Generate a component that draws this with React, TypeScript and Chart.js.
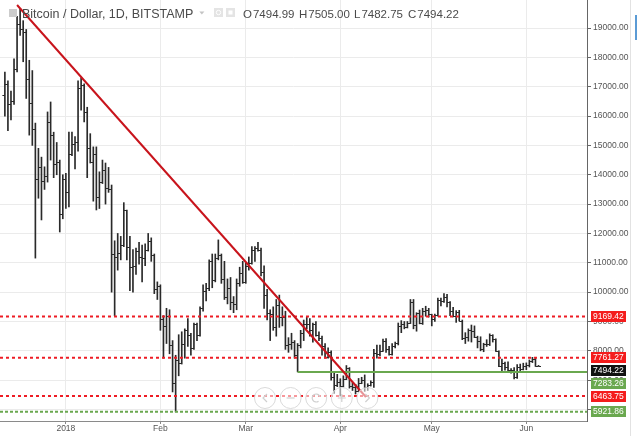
import React, { useEffect, useRef } from "react";
import { Chart, registerables } from "chart.js";

Chart.register(...registerables);

// Day index of the first bar: 0 = 1 Jan 2018, so -20 = 12 Dec 2017 (daily bars, BITSTAMP)
const FIRST_DAY = -20;

const opens = [
  16730, 17080, 16400, 16500, 17600, 19150, 18950, 18850, 17250, 16450, 15550, 13850, 14250, 13800, 13950, 15800, 15350, 14350, 14450, 12650,
  13850, 13400, 14700, 15050, 15100, 16950, 17050, 16150, 14900, 14450, 14700, 13250, 13750, 14150, 13550, 13500, 11300, 11200, 11350, 11600, 12800, 11550, 10850, 10880, 11400, 11200, 11150, 11450, 11750, 11250, 10100,
  10200, 9100, 8850, 9200, 8200, 6900, 7700, 7600, 8250, 8700, 8550, 8100, 8900, 8550, 9450, 10050, 10150, 11050, 10400, 11150, 11250, 10450, 9850, 10150, 9650, 9600, 10300, 10650,
  10350, 10900, 11000, 11450, 11500, 11450, 10700, 9900, 9300, 9250, 8800, 9550, 9150, 9150, 8200, 8250, 8300, 7850, 8200, 8600, 8900, 8900, 8700, 8900, 8550, 8450, 8150, 7800, 7950, 7100, 6850,
  6950, 6800, 7050, 7420, 6800, 6780, 6620, 6900, 7020, 6770, 6830, 6940, 7920, 7880, 8000, 8350, 8050, 7880, 8170, 8280, 8850, 8920, 8800, 8940, 9650, 8870, 9280, 8950, 9350, 9400,
  9240, 9070, 9220, 9730, 9700, 9850, 9650, 9370, 9190, 9320, 9030, 8430, 8470, 8700, 8680, 8480, 8340, 8060, 8240, 8240, 8530, 8390, 7990, 7500, 7580, 7460, 7340, 7350, 7110, 7460, 7390,
  7490, 7520, 7640, 7710, 7494.99,
];

const highs = [
  17500, 17200, 16850, 17950, 19400, 19666, 19250, 18950, 17900, 17550, 15760, 14900, 14600, 14270, 16140, 16480, 15450, 15100, 14500, 14000,
  14050, 15450, 15450, 15300, 17200, 17300, 17100, 16300, 15400, 14950, 14950, 14100, 14500, 14400, 14250, 13650, 11750, 12000, 11900, 13050, 12800, 11900, 11450, 11500, 11700, 11600, 11650, 12000, 11850, 11300, 10350,
  10250, 9200, 9450, 9400, 8350, 7850, 8550, 8650, 8750, 9100, 8600, 8950, 8950, 9500, 10250, 10300, 11100, 11300, 11300, 11780, 11300, 11050, 10450, 10500, 9850, 10450, 10850, 11050,
  11000, 11200, 11550, 11550, 11700, 11500, 10900, 10100, 9400, 9500, 9750, 9900, 9500, 9350, 8450, 8600, 8350, 8250, 8700, 9050, 9150, 9100, 8950, 9000, 8650, 8500, 8250, 8100, 8000, 7250, 7200,
  7050, 7150, 7500, 7430, 6920, 6860, 7060, 7100, 7180, 6880, 6980, 8050, 8200, 8200, 8400, 8420, 8150, 8250, 8300, 8950, 9030, 9000, 9000, 9750, 9750, 9300, 9390, 9450, 9520, 9450,
  9250, 9250, 9800, 9800, 9950, 9930, 9680, 9480, 9370, 9380, 9050, 8620, 8750, 8880, 8850, 8500, 8480, 8260, 8380, 8580, 8550, 8410, 8000, 7720, 7620, 7630, 7400, 7430, 7530, 7550, 7580,
  7590, 7690, 7780, 7760, 7505,
];

const lows = [
  16000, 15500, 15870, 16400, 17500, 18750, 17850, 16600, 15350, 15000, 11160, 13200, 12460, 13500, 13750, 14500, 13900, 14000, 12050, 12500,
  12850, 12900, 14650, 14200, 14800, 16200, 15800, 13900, 14400, 13100, 12800, 12850, 13700, 13000, 13400, 10000, 9200, 10750, 11100, 11550, 11100, 10050, 10000, 10600, 10950, 10350, 10900, 11400, 11050, 9950, 9750,
  8700, 7750, 8250, 7900, 6600, 5921.86, 7150, 7550, 7750, 8150, 7850, 8050, 8350, 8500, 9350, 9700, 10050, 10150, 10350, 11100, 10300, 9750, 9600, 9400, 9300, 9400, 10200, 10300,
  10300, 10750, 10950, 11050, 11400, 10550, 9450, 9050, 8350, 8700, 8500, 8800, 8850, 8050, 7950, 8050, 7750, 7283.26, 8100, 8350, 8750, 8500, 8300, 8500, 8350, 7850, 7750, 7750, 7000, 6550, 6780,
  6460, 6770, 7020, 6730, 6650, 6530, 6600, 6880, 6620, 6650, 6800, 6750, 7750, 7830, 7980, 7950, 7850, 7850, 8100, 8200, 8620, 8750, 8780, 8930, 8750, 8670, 8920, 8900, 9180, 9150,
  8850, 9000, 9180, 9530, 9650, 9500, 9200, 9160, 8970, 9020, 8380, 8250, 8330, 8300, 8450, 8100, 8000, 7970, 8150, 8180, 8300, 7980, 7460, 7280, 7340, 7320, 7240, 7040, 7060, 7300, 7350,
  7360, 7450, 7600, 7470, 7482.75,
];

const closes = [
  17080, 16400, 16500, 17600, 19150, 18950, 18850, 17250, 16450, 15550, 13850, 14250, 13800, 13950, 15800, 15350, 14350, 14450, 12650, 13850,
  13400, 14700, 15050, 15100, 16950, 17050, 16150, 14900, 14450, 14700, 13250, 13750, 14150, 13550, 13500, 11300, 11200, 11350, 11600, 12800, 11550, 10850, 10880, 11400, 11200, 11150, 11450, 11750, 11250, 10100, 10200,
  9100, 8850, 9200, 8200, 6900, 7700, 7600, 8250, 8700, 8550, 8100, 8900, 8550, 9450, 10050, 10150, 11050, 10400, 11150, 11250, 10450, 9850, 10150, 9650, 9600, 10300, 10650, 10350,
  10900, 11000, 11450, 11500, 11450, 10700, 9900, 9300, 9250, 8800, 9550, 9150, 9150, 8200, 8250, 8300, 7850, 8200, 8600, 8900, 8900, 8700, 8900, 8550, 8450, 8150, 7800, 7950, 7100, 6850, 6950,
  6800, 7050, 7420, 6800, 6780, 6620, 6900, 7020, 6770, 6830, 6940, 7920, 7880, 8000, 8350, 8050, 7880, 8170, 8280, 8850, 8920, 8800, 8940, 9650, 8870, 9280, 8950, 9350, 9400, 9240,
  9070, 9220, 9730, 9700, 9850, 9650, 9370, 9190, 9320, 9030, 8430, 8470, 8700, 8680, 8480, 8340, 8060, 8240, 8240, 8530, 8390, 7990, 7500, 7580, 7460, 7340, 7350, 7110, 7460, 7390, 7490,
  7520, 7640, 7710, 7494.99, 7494.22,
];

// x axis: month starts (day index) and their labels
const monthTickDays = [0, 31, 59, 90, 120, 151];
const monthTickLabels = ["2018", "Feb", "Mar", "Apr", "May", "Jun"];
// y axis ticks
const priceTicks = [6000, 7000, 8000, 9000, 10000, 11000, 12000, 13000, 14000, 15000, 16000, 17000, 18000, 19000];

// drawn levels
const redLevels = [9169.42, 7761.27, 6463.75];
const greenDashedLevel = 5921.86;
const greenLevel = 7283.26;
const greenLevelStartDay = 76;
const trendDays = [-16, 98.4];
const trendPrices = [19784, 6428];
const lastPrice = 7494.22;

// right-axis price tags
const tagValues = [9169.42, 7761.27, lastPrice, 7283.26, 6463.75, 5921.86];
const tagColors = ["#f41c1c", "#f41c1c", "#111111", "#6aa84f", "#f41c1c", "#6aa84f"];

const legendTitle = "Bitcoin / Dollar, 1D, BITSTAMP";
const legendLetters = ["O", "H", "L", "C"];
const legendNumbers = ["7494.99", "7505.00", "7482.75", "7494.22"];

const X_MIN = -21.6;
const X_MAX = 170.9;
const Y_MIN = 5610;
const Y_MAX = 19954;

const FONT = "'Liberation Sans', Arial, sans-serif";
const BAR_COLOR = "#2a2a2a";
const RED = "#ee1c24";
const GREEN = "#6aa84f";

const ohlcTicksPlugin = {
  id: "ohlcTicks",
  afterDatasetDraw(chart: any, args: any) {
    if (args.index !== 0) return;
    const ctx = chart.ctx;
    const y = chart.scales.y;
    const meta = chart.getDatasetMeta(0);
    ctx.save();
    ctx.strokeStyle = BAR_COLOR;
    ctx.lineWidth = 1;
    ctx.beginPath();
    meta.data.forEach((el: any, i: number) => {
      const x = el.x;
      const yo = Math.round(y.getPixelForValue(opens[i])) + 0.5;
      const yc = Math.round(y.getPixelForValue(closes[i])) + 0.5;
      ctx.moveTo(x - 2.5, yo);
      ctx.lineTo(x, yo);
      ctx.moveTo(x, yc);
      ctx.lineTo(x + 2.5, yc);
    });
    ctx.stroke();
    ctx.restore();
  },
};

const decorPlugin = {
  id: "decor",
  afterDraw(chart: any) {
    const ctx = chart.ctx;
    const yS = chart.scales.y;
    const area = chart.chartArea;
    ctx.save();

    // right edge strip
    ctx.strokeStyle = "#e2e2e2";
    ctx.lineWidth = 1;
    ctx.beginPath();
    ctx.moveTo(630.5, 0);
    ctx.lineTo(630.5, 436);
    ctx.stroke();
    ctx.fillStyle = "#5b9bd5";
    ctx.fillRect(635, 15, 2, 25);

    // navigation buttons
    const cy = 398;
    for (let k = 0; k < 5; k++) {
      const cx = 265 + k * 25.6;
      ctx.beginPath();
      ctx.arc(cx, cy, 10.5, 0, Math.PI * 2);
      ctx.fillStyle = "rgba(255,255,255,0.55)";
      ctx.fill();
      ctx.strokeStyle = "#dadada";
      ctx.lineWidth = 1;
      ctx.stroke();
      ctx.strokeStyle = "#cfcfcf";
      ctx.lineWidth = 1.2;
      ctx.beginPath();
      if (k === 0) {
        ctx.moveTo(cx + 2, cy - 4);
        ctx.lineTo(cx - 2, cy);
        ctx.lineTo(cx + 2, cy + 4);
      } else if (k === 1) {
        ctx.moveTo(cx - 4, cy);
        ctx.lineTo(cx + 4, cy);
      } else if (k === 2) {
        ctx.arc(cx, cy, 4, Math.PI * 0.3, Math.PI * 1.9);
      } else if (k === 3) {
        ctx.moveTo(cx - 4, cy);
        ctx.lineTo(cx + 4, cy);
        ctx.moveTo(cx, cy - 4);
        ctx.lineTo(cx, cy + 4);
      } else {
        ctx.moveTo(cx - 2, cy - 4);
        ctx.lineTo(cx + 2, cy);
        ctx.lineTo(cx - 2, cy + 4);
      }
      ctx.stroke();
    }

    // legend header
    ctx.fillStyle = "#cccccc";
    ctx.fillRect(9, 9, 8, 8);
    ctx.font = `12.5px ${FONT}`;
    ctx.textBaseline = "alphabetic";
    ctx.textAlign = "left";
    ctx.fillStyle = "#4a4a4a";
    ctx.fillText(legendTitle, 22, 18);
    const tw = ctx.measureText(legendTitle).width;
    // caret and small icons
    ctx.fillStyle = "#c4c4c4";
    ctx.beginPath();
    ctx.moveTo(22 + tw + 6, 11.5);
    ctx.lineTo(22 + tw + 11, 11.5);
    ctx.lineTo(22 + tw + 8.5, 14.5);
    ctx.closePath();
    ctx.fill();
    ctx.fillStyle = "#e4e4e4";
    ctx.fillRect(214, 8, 9, 9);
    ctx.fillRect(226, 8, 9, 9);
    ctx.strokeStyle = "#ffffff";
    ctx.lineWidth = 1;
    ctx.beginPath();
    ctx.arc(218.5, 12.5, 2.2, 0, Math.PI * 2);
    ctx.stroke();
    ctx.fillStyle = "#ffffff";
    ctx.fillRect(228.5, 10.5, 4, 4);
    ctx.font = `11.5px ${FONT}`;
    ctx.fillStyle = "#4a4a4a";
    const groupX = [243, 299, 354, 408];
    legendLetters.forEach((l, i) => {
      ctx.fillText(l, groupX[i], 18);
      const lw = ctx.measureText(l).width;
      ctx.fillText(legendNumbers[i], groupX[i] + lw + 1, 18);
    });

    // price tags on the right axis
    const tags = tagValues
      .map((v, i) => ({ v, c: tagColors[i], y: yS.getPixelForValue(v) }))
      .sort((a, b) => a.y - b.y);
    let prev = -Infinity;
    ctx.font = `8.5px ${FONT}`;
    ctx.textBaseline = "middle";
    tags.forEach((t) => {
      const yy = Math.max(t.y, prev + 13);
      prev = yy;
      ctx.fillStyle = t.c;
      ctx.fillRect(area.right + 4, Math.round(yy - 5.5), 35, 11);
      ctx.fillStyle = "#ffffff";
      ctx.fillText(t.v.toFixed(2), area.right + 6, Math.round(yy - 5.5) + 6);
    });
    ctx.restore();
  },
};

export default function App() {
  const ref = useRef<HTMLCanvasElement | null>(null);

  useEffect(() => {
    const canvas = ref.current;
    if (!canvas) return;
    Chart.defaults.font.family = FONT;

    const wickData = opens.map((_, i) => ({ x: FIRST_DAY + i, y: [lows[i], highs[i]] }));
    const flat = (v: number, from = X_MIN) => [
      { x: from, y: v },
      { x: X_MAX, y: v },
    ];

    const chart = new Chart(canvas, {
      type: "bar",
      data: {
        datasets: [
          {
            type: "bar",
            data: wickData as any,
            backgroundColor: BAR_COLOR,
            borderWidth: 0,
            barThickness: 1,
            order: 5,
          } as any,
          {
            type: "line",
            data: [
              { x: trendDays[0], y: trendPrices[0] },
              { x: trendDays[1], y: trendPrices[1] },
            ],
            borderColor: "#c8141c",
            borderWidth: 2,
            pointRadius: 0,
            order: 1,
          },
          ...redLevels.map((v) => ({
            type: "line" as const,
            data: flat(v),
            borderColor: RED,
            borderWidth: 2,
            borderDash: [3, 3],
            pointRadius: 0,
            order: 2,
          })),
          {
            type: "line",
            data: flat(greenDashedLevel),
            borderColor: GREEN,
            borderWidth: 2,
            borderDash: [3, 2],
            pointRadius: 0,
            order: 2,
          },
          {
            type: "line",
            data: flat(greenLevel, greenLevelStartDay),
            borderColor: GREEN,
            borderWidth: 2,
            pointRadius: 0,
            order: 2,
          },
        ],
      },
      options: {
        responsive: false,
        animation: false,
        devicePixelRatio: 1,
        events: [],
        layout: { padding: 0 },
        plugins: { legend: { display: false }, tooltip: { enabled: false } },
        scales: {
          x: {
            type: "linear",
            min: X_MIN,
            max: X_MAX,
            offset: false,
            grid: { color: "#ebebeb", offset: false, tickLength: 3, tickColor: "#888" },
            border: { color: "#8a8a8a", width: 1 },
            afterBuildTicks: (s: any) => {
              s.ticks = monthTickDays.map((v) => ({ value: v }));
            },
            afterFit: (s: any) => {
              s.height = 15;
              s.paddingLeft = 0;
              s.paddingRight = 0;
            },
            ticks: {
              autoSkip: false,
              maxRotation: 0,
              padding: 0,
              color: "#555",
              font: { size: 8.5, family: FONT },
              callback: (_v: any, i: number) => monthTickLabels[i],
            },
          },
          y: {
            type: "linear",
            position: "right",
            min: Y_MIN,
            max: Y_MAX,
            grid: { color: "#ebebeb", tickLength: 4, tickColor: "#666" },
            border: { color: "#666", width: 1 },
            afterBuildTicks: (s: any) => {
              s.ticks = priceTicks.map((v) => ({ value: v }));
            },
            afterFit: (s: any) => {
              s.width = 53;
              s.paddingTop = 0;
              s.paddingBottom = 0;
            },
            ticks: {
              autoSkip: false,
              padding: 2,
              color: "#555",
              font: { size: 8.5, family: FONT },
              callback: (v: any) => Number(v).toFixed(2),
            },
          },
        },
      } as any,
      plugins: [ohlcTicksPlugin, decorPlugin],
    });
    return () => chart.destroy();
  }, []);

  return (
    <div style={{ position: "fixed", left: 0, top: 0, width: 640, height: 436, background: "#ffffff" }}>
      <canvas ref={ref} width={640} height={436} style={{ display: "block", width: 640, height: 436 }} />
    </div>
  );
}
